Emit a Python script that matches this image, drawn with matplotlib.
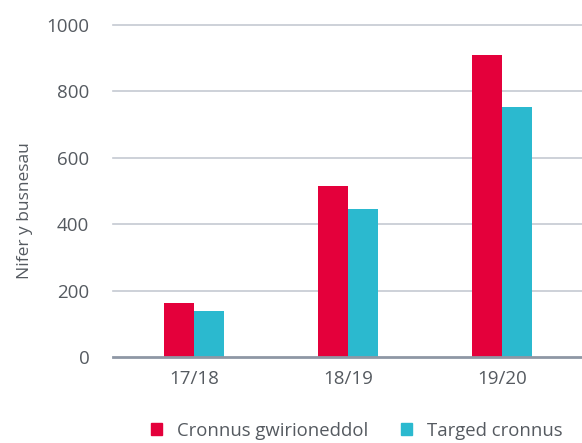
import numpy as np
import matplotlib.pyplot as plt
import matplotlib.patches as mpatches

plt.rcParams['font.family'] = ['Open Sans', 'DejaVu Sans']

# data
years = ['17/18', '18/19', '19/20']
actual = [163, 515, 910]      # Cronnus gwirioneddol
target = [139, 446, 753]      # Targed cronnus

red = '#E4003B'
cyan = '#2BB9CF'
text_col = '#555a60'

fig = plt.figure(figsize=(5.82, 4.43), dpi=100)
ax = fig.add_axes([0.194, 0.194, 0.806, 0.750])

x = np.arange(len(years))
w = 0.195
ax.bar(x - w / 2, actual, width=w, color=red, zorder=3)
ax.bar(x + w / 2, target, width=w, color=cyan, zorder=3)

ax.set_ylim(0, 1000)
ax.set_xlim(-0.526, 2.52)
ax.set_yticks([0, 200, 400, 600, 800, 1000])
ax.set_xticks(x)
ax.set_xticklabels(years)

for yv in [200, 400, 600, 800, 1000]:
    ax.axhline(yv, color='#c5c9d2', linewidth=1.2, zorder=1, clip_on=False)
ax.axhline(0, color='#8e97a5', linewidth=2, zorder=4, clip_on=False)

for s in ax.spines.values():
    s.set_visible(False)
ax.tick_params(axis='both', length=0, labelsize=13.5, colors=text_col)
ax.tick_params(axis='y', pad=17)
ax.tick_params(axis='x', pad=9)
ax.set_ylabel('Nifer y busnesau', fontsize=12.5, color=text_col)
ax.yaxis.set_label_coords(-0.17, 0.44)

handles = [mpatches.Patch(color=red, label='Cronnus gwirioneddol'),
           mpatches.Patch(color=cyan, label='Targed cronnus')]
fig.legend(handles=handles, loc='center', bbox_to_anchor=(0.613, 0.028), ncol=2,
           frameon=False, fontsize=13.3, handlelength=0.6, handleheight=0.6,
           handletextpad=0.8, columnspacing=1.8, labelcolor=text_col)

fig.savefig('out.png', dpi=100)
